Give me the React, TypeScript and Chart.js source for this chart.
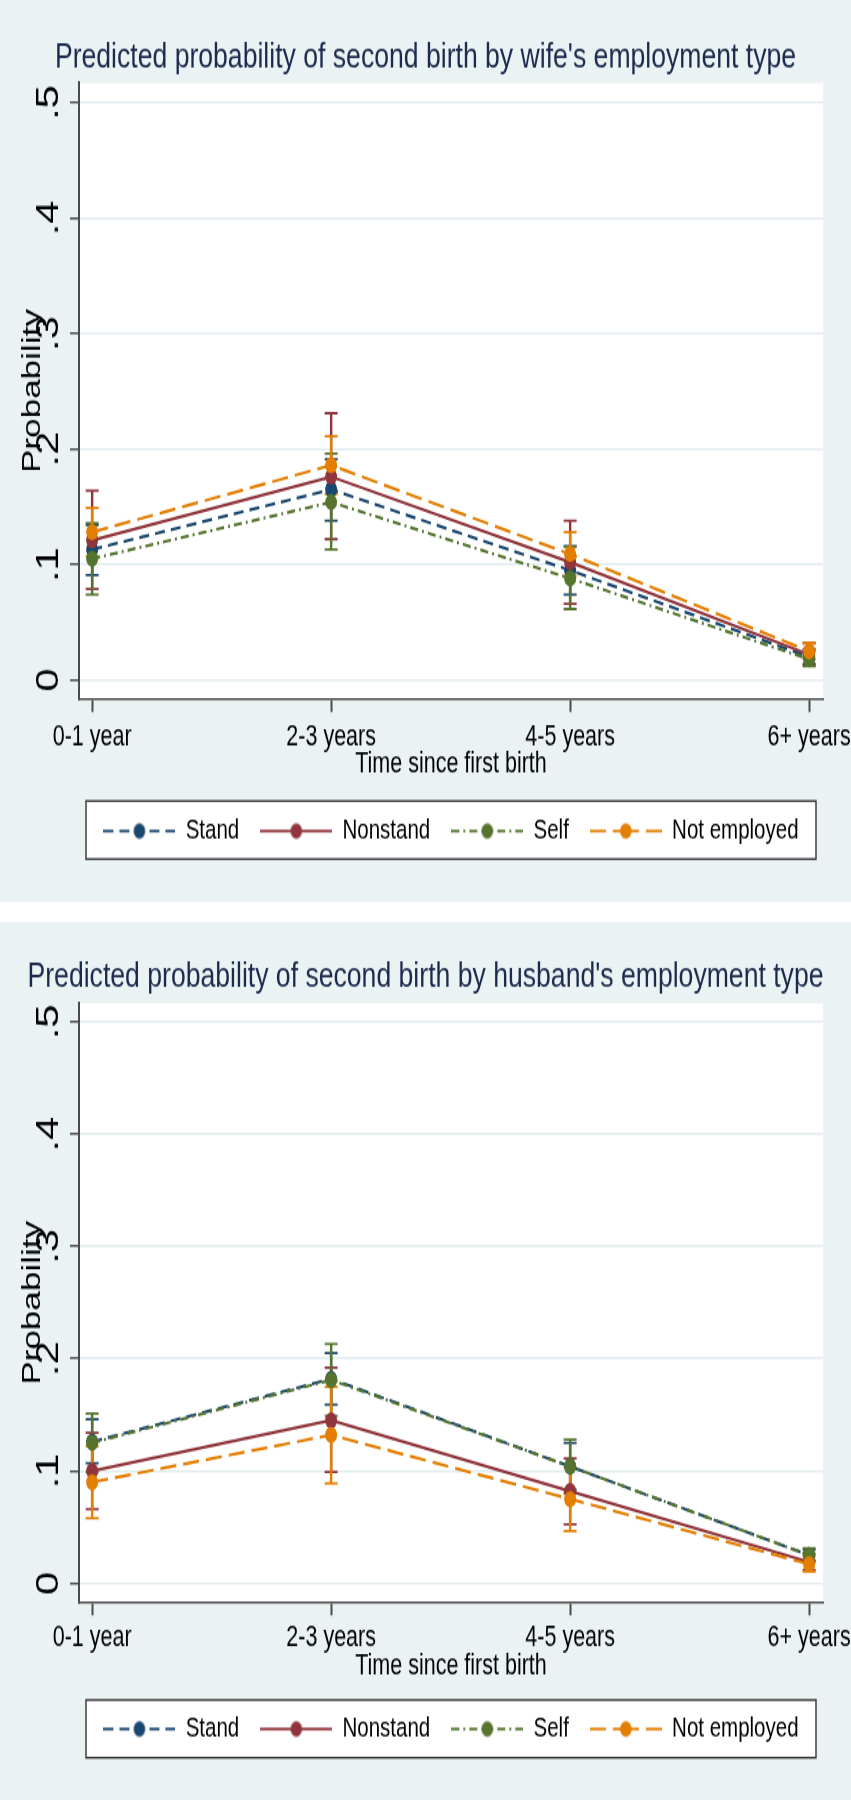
import React, { useEffect, useRef } from 'react';
import { Chart, registerables } from 'chart.js';

Chart.register(...registerables);

// ---------- data ----------
const categories = ['0-1 year', '2-3 years', '4-5 years', '6+ years'];
const categoryPositions = [0, 1, 2, 3];
const yTickValues = [0, 0.1, 0.2, 0.3, 0.4, 0.5];
const yTickLabels = ['0', '.1', '.2', '.3', '.4', '.5'];
const seriesNames = ['Stand', 'Nonstand', 'Self', 'Not employed'];
const xAxisTitle = 'Time since first birth';
const yAxisTitle = 'Probability';
const wifeTitle = "Predicted probability of second birth by wife's employment type";
const husbandTitle = "Predicted probability of second birth by husband's employment type";

// wife's employment type
const wifeStand = [0.113, 0.165, 0.095, 0.020];
const wifeStandLo = [0.091, 0.138, 0.074, 0.014];
const wifeStandHi = [0.134, 0.191, 0.116, 0.027];
const wifeNonstand = [0.121, 0.176, 0.102, 0.022];
const wifeNonstandLo = [0.079, 0.122, 0.066, 0.013];
const wifeNonstandHi = [0.164, 0.231, 0.138, 0.032];
const wifeSelf = [0.105, 0.154, 0.088, 0.018];
const wifeSelfLo = [0.074, 0.113, 0.0615, 0.012];
const wifeSelfHi = [0.136, 0.196, 0.1155, 0.025];
const wifeNotEmployed = [0.128, 0.186, 0.109, 0.025];
const wifeNotEmployedLo = [0.107, 0.161, 0.090, 0.018];
const wifeNotEmployedHi = [0.149, 0.211, 0.128, 0.032];

// husband's employment type
const husbandStand = [0.126, 0.182, 0.104, 0.025];
const husbandStandLo = [0.107, 0.159, 0.083, 0.020];
const husbandStandHi = [0.146, 0.205, 0.125, 0.030];
const husbandNonstand = [0.100, 0.145, 0.082, 0.019];
const husbandNonstandLo = [0.066, 0.099, 0.0525, 0.012];
const husbandNonstandHi = [0.134, 0.192, 0.111, 0.026];
const husbandSelf = [0.125, 0.181, 0.104, 0.025];
const husbandSelfLo = [0.099, 0.149, 0.080, 0.019];
const husbandSelfHi = [0.151, 0.213, 0.128, 0.031];
const husbandNotEmployed = [0.090, 0.132, 0.075, 0.017];
const husbandNotEmployedLo = [0.058, 0.089, 0.0466, 0.0103];
const husbandNotEmployedHi = [0.122, 0.175, 0.103, 0.024];

// ---------- styles ----------
const seriesColors = ['#1a476f', '#90353b', '#55752f', '#e37e00'];
const seriesDash: number[][] = [[10, 6], [], [8, 4, 2, 4], [16, 7]];
const BG = '#eaf2f3';
const GRID = '#e2ecef';
const AXIS = '#4a4a4a';
const TITLE_COLOR = '#1c2a4d';
const FONT = "'Liberation Sans', Arial, 'DejaVu Sans', sans-serif";
const MID = 0.3465;
const TITLE_SIZE = 26.6;
const XTICK_SIZE = 21.5;
const XTITLE_SIZE = 21.5;
const YTICK_SIZE = 31;
const YTITLE_SIZE = 26;
const LEGEND_SIZE = 20.5;
const PLOT_LEFT = 79;
const RIGHT_MARGIN = 28;
const Y_TICK_LEN = 9;
const CANVAS_W = 851;
const STRETCH = 1.35;
const LEGEND_SAMPLE_W = 72;
const LINE_W = 2.2;
const POINT_R = 6;

type PanelSpec = {
  title: string;
  means: number[][];
  los: number[][];
  his: number[][];
  cssHeight: number;
  titleBaseline: number;
  plotTop: number;
  plotBottom: number;
  yMin: number;
  yMax: number;
  tickLabelBaseline: number;
  xTitleBaseline: number;
  legendCenter: number;
  legendBoxTop: number;
  legendBoxBottom: number;
};

// layout values are page pixels measured from each panel's top edge
const wifeSpec: PanelSpec = {
  title: wifeTitle,
  means: [wifeStand, wifeNonstand, wifeSelf, wifeNotEmployed],
  los: [wifeStandLo, wifeNonstandLo, wifeSelfLo, wifeNotEmployedLo],
  his: [wifeStandHi, wifeNonstandHi, wifeSelfHi, wifeNotEmployedHi],
  cssHeight: 902,
  titleBaseline: 70,
  plotTop: 83,
  plotBottom: 699,
  yMin: -0.0164,
  yMax: 0.5168,
  tickLabelBaseline: 747,
  xTitleBaseline: 775,
  legendCenter: 831,
  legendBoxTop: 801,
  legendBoxBottom: 859,
};

const husbandSpec: PanelSpec = {
  title: husbandTitle,
  means: [husbandStand, husbandNonstand, husbandSelf, husbandNotEmployed],
  los: [husbandStandLo, husbandNonstandLo, husbandSelfLo, husbandNotEmployedLo],
  his: [husbandStandHi, husbandNonstandHi, husbandSelfHi, husbandNotEmployedHi],
  cssHeight: 878,
  titleBaseline: 68,
  plotTop: 81.3,
  plotBottom: 680.3,
  yMin: -0.017,
  yMax: 0.5164,
  tickLabelBaseline: 726,
  xTitleBaseline: 754.7,
  legendCenter: 807,
  legendBoxTop: 778,
  legendBoxBottom: 835.7,
};

function legendImage(color: string, dash: number[]) {
  const c = document.createElement('canvas');
  c.width = LEGEND_SAMPLE_W;
  c.height = 14;
  const g = c.getContext('2d')!;
  const h = LEGEND_SAMPLE_W / 2;
  g.strokeStyle = color;
  g.lineWidth = 2;
  g.setLineDash(dash);
  g.beginPath();
  g.moveTo(0, 7);
  g.lineTo(h, 7);
  g.moveTo(LEGEND_SAMPLE_W, 7);
  g.lineTo(h, 7);
  g.stroke();
  g.setLineDash([]);
  g.fillStyle = color;
  g.beginPath();
  g.arc(h, 7, 5.8, 0, Math.PI * 2);
  g.fill();
  return c;
}

function measure(text: string, size: number) {
  const c = document.createElement('canvas');
  const g = c.getContext('2d')!;
  g.font = `${size}px ${FONT}`;
  return g.measureText(text).width;
}

function internalHeight(p: PanelSpec) {
  return Math.round(p.cssHeight / STRETCH);
}

function buildConfig(p: PanelSpec): any {
  const H = internalHeight(p);
  const S = p.cssHeight / H;
  const v = (css: number) => css / S;

  const titleMid = v(p.titleBaseline) - MID * TITLE_SIZE;
  const titlePadTop = titleMid - 0.6 * TITLE_SIZE;
  const titlePadBottom = v(p.plotTop) - titlePadTop - 1.2 * TITLE_SIZE;

  const plotWidth = CANVAS_W - PLOT_LEFT - RIGHT_MARGIN;
  const itemsW = seriesNames.reduce(
    (acc, n) => acc + LEGEND_SAMPLE_W + LEGEND_SIZE / 2 + measure(n, LEGEND_SIZE),
    0,
  );
  const legendPad = Math.max(8, Math.min(25, Math.floor((plotWidth - itemsW) / 5) - 1));

  const legendTop = v(p.legendCenter) - legendPad - LEGEND_SIZE / 2;
  const legendBottom = legendTop + LEGEND_SIZE + legendPad + 10;
  const xTickLen = v(13);
  const xScaleHeight = legendTop - v(p.plotBottom);
  const xTickPad = v(p.tickLabelBaseline) - MID * XTICK_SIZE - 0.6 * XTICK_SIZE - v(p.plotBottom) - xTickLen;
  const xTitlePadBottom = legendTop - 0.6 * XTITLE_SIZE - (v(p.xTitleBaseline) - MID * XTITLE_SIZE);
  const yWidest = Math.max(...yTickLabels.map((t) => measure(t, YTICK_SIZE)));
  const yLabelAnchor = 60 - MID * YTICK_SIZE;
  const yTickPad = PLOT_LEFT - Y_TICK_LEN - yWidest / 2 - yLabelAnchor;
  const yTitleCenter = 42 - MID * YTITLE_SIZE;
  const yTitlePadTop = yTitleCenter - 0.6 * YTITLE_SIZE;
  const thin = 2 / S;

  const images = seriesNames.map((_, i) => legendImage(seriesColors[i], seriesDash[i]));

  const datasets = seriesNames.map((name, i) => ({
    label: name,
    data: categoryPositions.map((x, j) => ({ x, y: p.means[i][j] })),
    borderColor: seriesColors[i],
    backgroundColor: seriesColors[i],
    borderWidth: LINE_W,
    borderDash: seriesDash[i],
    pointRadius: POINT_R,
    pointBorderWidth: 0,
    pointBackgroundColor: seriesColors[i],
    pointStyle: 'circle',
    tension: 0,
    order: seriesNames.length - i,
  }));

  const bgPlugin = {
    id: 'bgPlugin',
    beforeDraw(chart: any) {
      const { ctx, chartArea, width, height } = chart;
      ctx.save();
      ctx.fillStyle = BG;
      ctx.fillRect(0, 0, width, height);
      ctx.fillStyle = '#ffffff';
      ctx.fillRect(chartArea.left, chartArea.top, chartArea.right - chartArea.left, chartArea.bottom - chartArea.top);
      const cx = (chartArea.left + chartArea.right) / 2;
      const top = v(p.legendBoxTop);
      const bh = v(p.legendBoxBottom) - top;
      ctx.fillRect(cx - 365, top, 730, bh);
      ctx.strokeStyle = '#333333';
      ctx.lineWidth = 1.4;
      ctx.strokeRect(cx - 365, top, 730, bh);
      ctx.restore();
    },
  };

  const errorBarPlugin = {
    id: 'errorBarPlugin',
    beforeDatasetsDraw(chart: any) {
      const { ctx } = chart;
      const xs = chart.scales.x;
      const ys = chart.scales.y;
      ctx.save();
      seriesNames.forEach((_, i) => {
        ctx.strokeStyle = seriesColors[i];
        categoryPositions.forEach((xv, j) => {
          const px = xs.getPixelForValue(xv);
          const yl = ys.getPixelForValue(p.los[i][j]);
          const yh = ys.getPixelForValue(p.his[i][j]);
          ctx.lineWidth = 2.4;
          ctx.beginPath();
          ctx.moveTo(px, yl);
          ctx.lineTo(px, yh);
          ctx.stroke();
          ctx.lineWidth = 2.4 / S;
          ctx.beginPath();
          ctx.moveTo(px - 6.5, yl);
          ctx.lineTo(px + 6.5, yl);
          ctx.moveTo(px - 6.5, yh);
          ctx.lineTo(px + 6.5, yh);
          ctx.stroke();
        });
      });
      ctx.restore();
    },
  };

  return {
    type: 'line',
    data: { datasets },
    plugins: [bgPlugin, errorBarPlugin],
    options: {
      responsive: false,
      animation: false,
      events: [],
      layout: { padding: { top: 0, left: 0, right: 0, bottom: H - legendBottom } },
      plugins: {
        tooltip: { enabled: false },
        title: {
          display: true,
          text: p.title,
          color: TITLE_COLOR,
          font: { family: FONT, size: TITLE_SIZE, weight: 'normal' },
          padding: { top: titlePadTop, bottom: titlePadBottom },
        },
        legend: {
          display: true,
          position: 'bottom',
          fullSize: false,
          labels: {
            usePointStyle: true,
            pointStyleWidth: LEGEND_SAMPLE_W,
            padding: legendPad,
            color: '#000000',
            font: { family: FONT, size: LEGEND_SIZE },
            generateLabels: () =>
              seriesNames.map((name, i) => ({
                text: name,
                fillStyle: seriesColors[i],
                strokeStyle: seriesColors[i],
                lineWidth: 0,
                pointStyle: images[i],
                hidden: false,
                datasetIndex: i,
              })),
          },
        },
      },
      scales: {
        x: {
          type: 'linear',
          min: -0.055,
          max: 3.058,
          afterBuildTicks: (s: any) => {
            s.ticks = categoryPositions.map((val) => ({ value: val }));
          },
          afterFit: (s: any) => {
            s.height = xScaleHeight;
            s.paddingLeft = 0;
            s.paddingRight = RIGHT_MARGIN;
          },
          ticks: {
            autoSkip: false,
            maxRotation: 0,
            minRotation: 0,
            padding: xTickPad,
            color: '#000000',
            font: { family: FONT, size: XTICK_SIZE },
            callback: (_v: any, i: number) => categories[i],
          },
          grid: {
            display: true,
            drawOnChartArea: false,
            drawTicks: true,
            tickLength: xTickLen,
            tickColor: AXIS,
            tickWidth: 2,
          },
          border: { display: true, color: AXIS, width: thin },
          title: {
            display: true,
            text: xAxisTitle,
            color: '#000000',
            font: { family: FONT, size: XTITLE_SIZE },
            padding: { top: 0, bottom: xTitlePadBottom },
          },
        },
        y: {
          type: 'linear',
          min: p.yMin,
          max: p.yMax,
          afterBuildTicks: (s: any) => {
            s.ticks = yTickValues.map((val) => ({ value: val }));
          },
          afterFit: (s: any) => {
            s.width = PLOT_LEFT;
            s.paddingTop = 0;
            s.paddingBottom = 0;
          },
          ticks: {
            autoSkip: false,
            minRotation: 90,
            maxRotation: 90,
            crossAlign: 'center',
            padding: yTickPad,
            color: '#000000',
            font: { family: FONT, size: YTICK_SIZE },
            callback: (_v: any, i: number) => yTickLabels[i],
          },
          grid: {
            display: true,
            drawOnChartArea: true,
            drawTicks: true,
            color: GRID,
            lineWidth: thin,
            tickLength: Y_TICK_LEN,
            tickColor: AXIS,
            tickWidth: thin,
          },
          border: { display: true, color: AXIS, width: 2 },
          title: {
            display: true,
            text: yAxisTitle,
            color: '#000000',
            font: { family: FONT, size: YTITLE_SIZE },
            padding: { top: yTitlePadTop, bottom: 0 },
          },
        },
      },
    },
  };
}

function Panel({ spec }: { spec: PanelSpec }) {
  const ref = useRef<HTMLCanvasElement>(null);
  useEffect(() => {
    const chart = new Chart(ref.current as HTMLCanvasElement, buildConfig(spec));
    return () => chart.destroy();
  }, [spec]);
  return (
    <canvas
      ref={ref}
      width={CANVAS_W}
      height={internalHeight(spec)}
      style={{ display: 'block', width: `${CANVAS_W}px`, height: `${spec.cssHeight}px` }}
    />
  );
}

export default function App() {
  useEffect(() => {
    document.body.style.margin = '0';
    document.body.style.background = '#ffffff';
  }, []);
  return (
    <div style={{ width: `${CANVAS_W}px`, background: '#ffffff' }}>
      <Panel spec={wifeSpec} />
      <div style={{ height: '20px' }} />
      <Panel spec={husbandSpec} />
    </div>
  );
}
